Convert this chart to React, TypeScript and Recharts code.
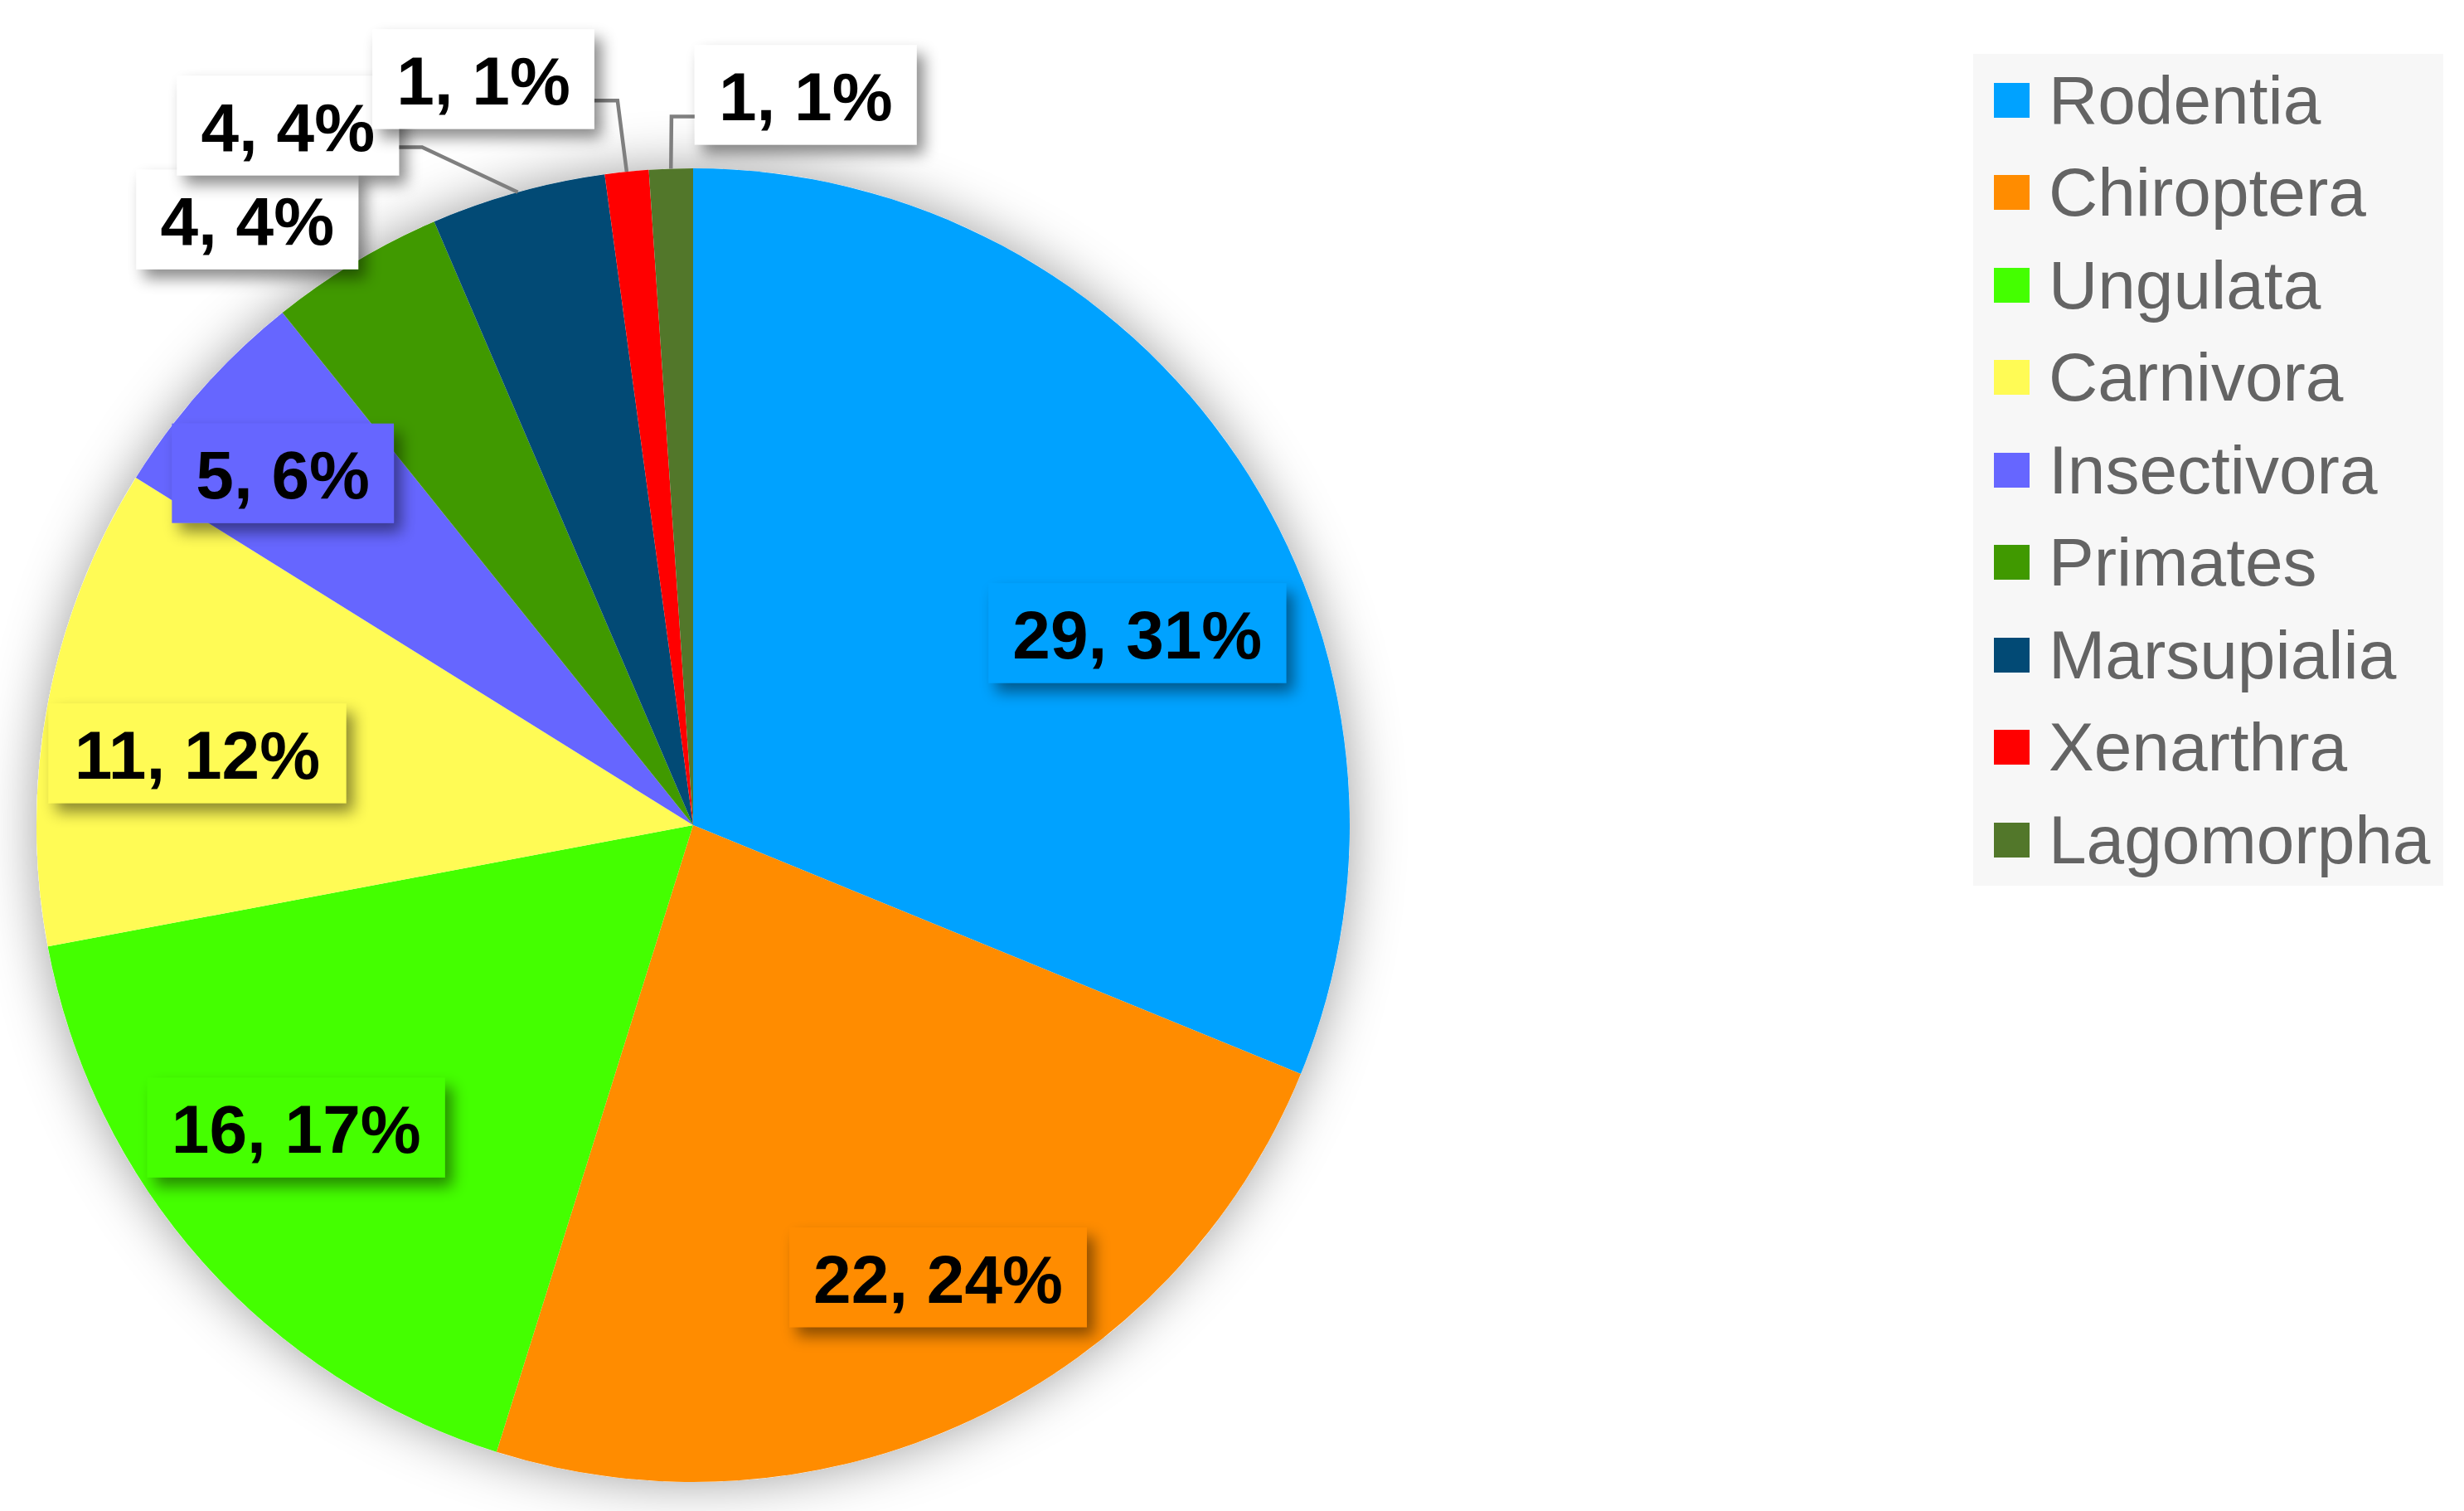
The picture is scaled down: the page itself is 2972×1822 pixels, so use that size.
import { Cell, Legend, Pie, PieChart } from "recharts";

const categories = [
  "Rodentia",
  "Chiroptera",
  "Ungulata",
  "Carnivora",
  "Insectivora",
  "Primates",
  "Marsupialia",
  "Xenarthra",
  "Lagomorpha",
];
const counts = [29, 22, 16, 11, 5, 4, 4, 1, 1];
const percentLabels = ["31%", "24%", "17%", "12%", "6%", "4%", "4%", "1%", "1%"];
const colours = [
  "#00A2FF",
  "#FF8C00",
  "#44FF00",
  "#FFFB55",
  "#6666FF",
  "#409900",
  "#024A75",
  "#FF0000",
  "#52772A",
];

// label placement relative to the slice mid angle (radius factor, angle shift)
const placement = [
  { r: 0.737, da: -10.5, outside: false, leader: false },
  { r: 0.783, da: 3.3, outside: false, leader: false },
  { r: 0.76, da: -4.3, outside: false, leader: false },
  { r: 0.763, da: 2.4, outside: false, leader: false },
  { r: 0.823, da: 1.0, outside: false, leader: false },
  { r: 1.145, da: 5.4, outside: true, leader: false },
  { r: 1.231, da: 14.6, outside: true, leader: true },
  { r: 1.18, da: 9.9, outside: true, leader: true },
  { r: 1.125, da: -10.7, outside: true, leader: true },
];

const tableData = categories.map((name, i) => ({
  name,
  value: counts[i],
  pct: percentLabels[i],
}));

const WIDTH = 2972;
const HEIGHT = 1822;
const CX = 836;
const CY = 995;
const RADIUS = 792;
const LABEL_FONT = 82;
const RAD = Math.PI / 180;

const charWidth = (ch: string) => {
  if (ch === "%") return 0.889;
  if (ch === "," || ch === " ") return 0.278;
  return 0.556;
};

const textWidth = (s: string) =>
  s.split("").reduce((acc, ch) => acc + charWidth(ch), 0) * LABEL_FONT;

function renderLabel(props: any) {
  const { cx, cy, midAngle, outerRadius, index, value } = props;
  const p = placement[index];
  const ang = (midAngle + p.da) * RAD;
  const x = cx + outerRadius * p.r * Math.cos(-ang);
  const y = cy + outerRadius * p.r * Math.sin(-ang);
  const text = `${value}, ${percentLabels[index]}`;
  const w = textWidth(text) + 58;
  const h = 120;

  let leader = null;
  if (p.leader) {
    const sx = cx + outerRadius * Math.cos(-midAngle * RAD);
    const sy = cy + outerRadius * Math.sin(-midAngle * RAD);
    const edge = sx > x ? x + w / 2 : x - w / 2;
    const elbowX = sx > x ? edge + 28 : edge - 28;
    const elbowY = y + 26;
    leader = (
      <polyline
        points={`${sx},${sy} ${elbowX},${elbowY} ${edge},${elbowY}`}
        fill="none"
        stroke="#7f7f7f"
        strokeWidth={4.5}
      />
    );
  }

  return (
    <g key={`label-${index}`}>
      {leader}
      <rect
        x={x - w / 2}
        y={y - h / 2}
        width={w}
        height={h}
        fill={p.outside ? "#ffffff" : colours[index]}
        filter="url(#boxShadow)"
      />
      <text
        x={x}
        y={y + 2}
        textAnchor="middle"
        dominantBaseline="central"
        fontFamily="'Liberation Sans', Arial, sans-serif"
        fontWeight="bold"
        fontSize={LABEL_FONT}
        fill="#000000"
      >
        {text}
      </text>
    </g>
  );
}

function renderLegend() {
  return (
    <div
      style={{
        background: "#f7f7f7",
        width: 567,
        height: 1003,
        boxSizing: "border-box",
      }}
    >
      {categories.map((name, i) => (
        <div
          key={name}
          style={{
            display: "flex",
            alignItems: "center",
            height: 111.5,
          }}
        >
          <div
            style={{
              width: 43,
              height: 42,
              marginLeft: 25,
              marginRight: 23,
              background: colours[i],
            }}
          />
          <span
            style={{
              fontFamily: "'Liberation Sans', Arial, sans-serif",
              fontSize: 82,
              color: "#646464",
              lineHeight: 1,
              whiteSpace: "nowrap",
            }}
          >
            {name}
          </span>
        </div>
      ))}
    </div>
  );
}

export default function App() {
  return (
    <div
      style={{
        position: "absolute",
        left: 0,
        top: 0,
        width: WIDTH,
        height: HEIGHT,
        background: "#ffffff",
      }}
    >
      <svg width={0} height={0} style={{ position: "absolute" }}>
        <defs>
          <filter id="pieShadow" x="-20%" y="-20%" width="140%" height="140%">
            <feDropShadow dx={0} dy={0} stdDeviation={32} floodColor="#000" floodOpacity={0.38} />
          </filter>
          <filter id="boxShadow" x="-20%" y="-30%" width="150%" height="180%">
            <feDropShadow dx={9} dy={11} stdDeviation={9} floodColor="#000" floodOpacity={0.45} />
          </filter>
        </defs>
      </svg>
      <PieChart width={WIDTH} height={HEIGHT} margin={{ top: 0, right: 0, bottom: 0, left: 0 }}>
        <Pie
          data={[{ name: "shadow", value: 1 }]}
          dataKey="value"
          cx={CX}
          cy={CY}
          outerRadius={RADIUS}
          startAngle={90}
          endAngle={-270}
          stroke="none"
          legendType="none"
          isAnimationActive={false}
        >
          <Cell fill="#ffffff" filter="url(#pieShadow)" />
        </Pie>
        <Pie
          data={tableData}
          dataKey="value"
          nameKey="name"
          cx={CX}
          cy={CY}
          outerRadius={RADIUS}
          startAngle={90}
          endAngle={-270}
          stroke="none"
          label={renderLabel}
          labelLine={false}
          isAnimationActive={false}
        >
          {tableData.map((d, i) => (
            <Cell key={d.name} fill={colours[i]} />
          ))}
        </Pie>
        <Legend
          content={renderLegend}
          layout="vertical"
          verticalAlign="top"
          align="right"
          wrapperStyle={{ left: 2380, top: 65, width: 567, height: 1003 }}
        />
      </PieChart>
    </div>
  );
}
